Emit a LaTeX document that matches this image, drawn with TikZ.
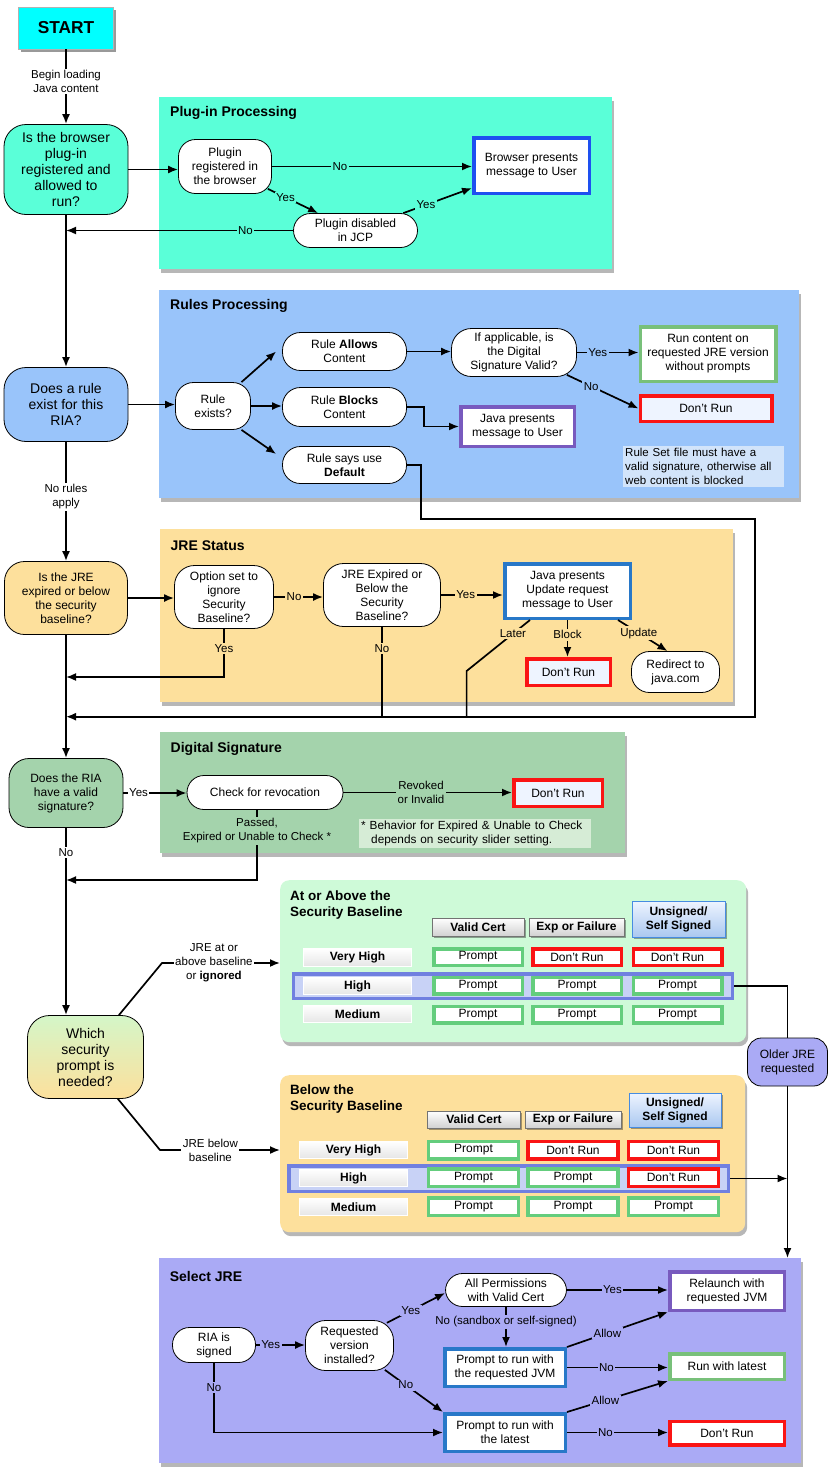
\documentclass[tikz,border=0pt]{standalone}
\usepackage{fontspec}
\setmainfont{Liberation Sans}
\usetikzlibrary{arrows.meta,shadows}
\newcommand\fsz[2]{\fontsize{#1pt}{#2pt}\selectfont}
\definecolor{cStart}{RGB}{0,255,255}
\definecolor{cPlug}{RGB}{90,255,216}
\definecolor{cRule}{RGB}{153,196,250}
\definecolor{cJre}{RGB}{253,224,156}
\definecolor{cSig}{RGB}{164,211,172}
\definecolor{cAbove}{RGB}{206,250,216}
\definecolor{cSel}{RGB}{170,170,245}
\definecolor{cBlue}{RGB}{30,80,240}
\definecolor{cSteel}{RGB}{40,120,200}
\definecolor{cGreen}{RGB}{120,192,122}
\definecolor{cCellG}{RGB}{100,205,125}
\definecolor{cRed}{RGB}{250,20,20}
\definecolor{cPurple}{RGB}{120,90,190}
\definecolor{cPale}{RGB}{238,244,255}
\definecolor{cNoteR}{RGB}{210,228,250}
\definecolor{cNoteS}{RGB}{214,236,214}
\definecolor{cBand}{RGB}{112,128,224}
\definecolor{cBandF}{RGB}{200,210,246}
\definecolor{cHdrB}{RGB}{70,140,225}
\definecolor{cHdrF}{RGB}{170,200,240}
\definecolor{cQtop}{RGB}{212,246,200}
\begin{document}
\begin{tikzpicture}[x=1pt,y=-1pt,
  panel/.style={fill=#1, inner sep=0pt, anchor=north west, draw=none,
    drop shadow={shadow xshift=2pt, shadow yshift=-4pt, opacity=0.4, fill=black!70}},
  ttl/.style={font=\fsz{14}{16}\bfseries, anchor=west, inner sep=0pt},
  rnd/.style={draw, line width=0.8pt, fill=white, rounded corners=#1, align=center, inner sep=1pt, font=\fsz{12}{14}},
  rnd/.default=17pt,
  cbox/.style={draw=#1, line width=3.5pt, fill=white, align=center, inner sep=1pt, font=\fsz{12}{14}},
  qnode/.style={draw, line width=0.8pt, rounded corners=22pt, align=center, inner sep=1pt},
  lbl/.style={fill=#1, inner sep=1.5pt, align=center, font=\fsz{11.5}{14}},
  lbl/.default=white,
  arr/.style={line width=1.7pt, -{Latex[length=10pt,width=8pt]}},
  ln/.style={line width=1.7pt},
  mcell/.style={draw=#1, line width=3.5pt, fill=white, inner sep=0pt, font=\fsz{12}{14}, minimum width=88.5pt, minimum height=16.5pt},
  hdr/.style={draw=black!55, line width=0.8pt, top color=white, bottom color=black!18, inner sep=0pt, align=center, font=\fsz{12}{14}\bfseries,
    drop shadow={shadow xshift=1.5pt, shadow yshift=-2pt, opacity=0.35, fill=black}},
  hdru/.style={draw=cHdrB, line width=0.8pt, top color=cPale, bottom color=cHdrF, inner sep=0pt, align=center, font=\fsz{12}{14}\bfseries,
    drop shadow={shadow xshift=1.5pt, shadow yshift=-2pt, opacity=0.35, fill=black}},
  rowl/.style={draw=white, line width=0.8pt, top color=white, bottom color=black!10, inner sep=0pt, font=\fsz{12}{14}\bfseries, minimum width=108pt, minimum height=17.5pt},
  band/.style={draw=cBand, line width=3.5pt, fill=cBandF, inner sep=0pt}
]
\useasboundingbox (0,0) rectangle (830,1478);

% ---------- panels ----------
\node[panel=cPlug, minimum width=453pt, minimum height=172pt] (pplug) at (159,97) {};
\node[panel=cRule, minimum width=640pt, minimum height=208pt] (prule) at (159,290) {};
\node[panel=cJre, minimum width=573pt, minimum height=173pt] (pjre) at (160,529) {};
\node[panel=cSig, minimum width=465pt, minimum height=121pt] (psig) at (160,732) {};
\node[panel=cAbove, rounded corners=9pt, minimum width=466pt, minimum height=162pt] (pabove) at (280,880) {};
\node[panel=cJre, rounded corners=9pt, minimum width=465pt, minimum height=157pt] (pbelow) at (280,1075) {};
\node[panel=cSel, minimum width=642pt, minimum height=205pt] (psel) at (159,1258) {};

\node[ttl] (tplug) at (170,113) {Plug-in Processing};
\node[ttl] (trule) at (170,306) {Rules Processing};
\node[ttl] (tjre) at (170.5,546) {JRE Status};
\node[ttl] (tsig) at (170.5,749) {Digital Signature};
\node[ttl, anchor=north west, align=left, font=\fsz{13.5}{15.5}\bfseries] (tabove) at (290,891) {At or Above the\\Security Baseline};
\node[ttl, anchor=north west, align=left, font=\fsz{13.5}{15.5}\bfseries] (tbelow) at (290,1085) {Below the\\Security Baseline};

% ---------- main column ----------
\node[draw=black!30, fill=cStart, minimum width=95pt, minimum height=42pt, inner sep=0pt,
  font=\fsz{17.3}{20}\bfseries, drop shadow={shadow xshift=2pt, shadow yshift=-3pt, opacity=0.4, fill=black}] (start) at (66,28) {START};
\node[qnode, fill=cPlug, minimum width=124pt, minimum height=90pt, font=\fsz{14}{15.8}] (q1) at (66,169.5) {Is the browser\\plug-in\\registered and\\allowed to\\run?};
\node[qnode, fill=cRule, minimum width=124pt, minimum height=74pt, font=\fsz{14}{16}] (q2) at (66,404.5) {Does a rule\\exist for this\\RIA?};
\node[qnode, fill=cJre, rounded corners=20pt, minimum width=123pt, minimum height=73pt, font=\fsz{12}{14}] (q3) at (66,598) {Is the JRE\\expired or below\\the security\\baseline?};
\node[qnode, fill=cSig, rounded corners=20pt, minimum width=114pt, minimum height=69pt, font=\fsz{12}{14}] (q4) at (66,793) {Does the RIA\\have a valid\\signature?};
\node[qnode, top color=cQtop, bottom color=cJre, minimum width=116pt, minimum height=83pt, font=\fsz{14}{16}] (q5) at (85.5,1057) {Which\\security\\prompt is\\needed?};

% ---------- plug-in processing ----------
\node[rnd, minimum width=93pt, minimum height=54pt] (preg) at (225,166.5) {Plugin\\registered in\\the browser};
\node[cbox=cBlue, minimum width=115.5pt, minimum height=55.5pt] (bpres) at (531.5,165.5) {Browser presents\\message to User};
\node[rnd, minimum width=124pt, minimum height=34pt] (pdis) at (355.5,230.5) {Plugin disabled\\in JCP};

% ---------- rules processing ----------
\node[rnd=18pt, minimum width=75pt, minimum height=47pt] (rex) at (213,406) {Rule\\exists?};
\node[rnd=18pt, minimum width=124pt, minimum height=38pt] (rall) at (344.5,351.5) {Rule \textbf{Allows}\\Content};
\node[rnd=18pt, minimum width=124pt, minimum height=39pt] (rblk) at (344.5,407) {Rule \textbf{Blocks}\\Content};
\node[rnd=18pt, minimum width=124pt, minimum height=37pt] (rdef) at (344.5,465) {Rule says use\\\textbf{Default}};
\node[rnd=20pt, minimum width=125pt, minimum height=48pt] (rif) at (514,352.5) {If applicable, is\\the Digital\\Signature Valid?};
\node[cbox=cGreen, minimum width=135.5pt, minimum height=54.5pt] (rrun) at (708,354) {Run content on\\requested JRE version\\without prompts};
\node[cbox=cRed, fill=cPale, minimum width=131.5pt, minimum height=25.5pt] (rdont) at (706,408.5) {Don't Run};
\node[cbox=cPurple, minimum width=113.5pt, minimum height=39.5pt] (rjava) at (517.5,426.5) {Java presents\\message to User};
\node[fill=cNoteR, anchor=west, text width=157pt, align=left, inner sep=2pt, minimum height=41pt, font=\fsz{11.5}{14}] (rnote) at (623,466.5) {Rule Set file must have a\\valid signature, otherwise all\\web content is blocked};

% ---------- JRE status ----------
\node[rnd=20pt, minimum width=99pt, minimum height=63pt] (jopt) at (224,597) {Option set to\\ignore\\Security\\Baseline?};
\node[rnd=20pt, minimum width=117pt, minimum height=63pt] (jexp) at (382,595) {JRE Expired or\\Below the\\Security\\Baseline?};
\node[cbox=cSteel, minimum width=125.5pt, minimum height=54.5pt] (jupd) at (567.5,591) {Java presents\\Update request\\message to User};
\node[cbox=cRed, fill=cPale, minimum width=83.5pt, minimum height=26.5pt] (jdont) at (568.5,672) {Don't Run};
\node[rnd=18pt, minimum width=88pt, minimum height=41pt] (jred) at (675.5,672) {Redirect to\\java.com};

% ---------- digital signature ----------
\node[rnd, minimum width=156pt, minimum height=34pt] (dchk) at (265,792.5) {Check for revocation};
\node[cbox=cRed, fill=cPale, minimum width=88.5pt, minimum height=26.5pt] (ddont) at (558,793) {Don't Run};
\node[fill=cNoteS, anchor=west, text width=228pt, align=left, inner sep=2pt, minimum height=28pt, font=\fsz{11.8}{14}] (dnote) at (359,833) {* Behavior for Expired \& Unable to Check\\\hspace*{10pt}depends on security slider setting.};

% ---------- at or above ----------
\node[band, minimum width=439pt, minimum height=24.5pt] (aband) at (512.75,986) {};
\node[hdr, minimum width=92pt, minimum height=18pt] (ahv) at (478,927) {Valid Cert};
\node[hdr, minimum width=95pt, minimum height=18pt] (ahe) at (576.5,927) {Exp or Failure};
\node[hdru, minimum width=93pt, minimum height=36pt] (ahu) at (678.5,919) {Unsigned/\\Self Signed};
\node[rowl] (arvh) at (357.5,957.5) {Very High};
\node[rowl] (arh) at (357.5,986) {High};
\node[rowl] (arm) at (357.5,1014) {Medium};
\node[mcell=cCellG] (a11) at (478,957) {Prompt};
\node[mcell=cRed] (a12) at (577,957) {Don't Run};
\node[mcell=cRed] (a13) at (677.5,957) {Don't Run};
\node[mcell=cCellG] (a21) at (478,985.5) {Prompt};
\node[mcell=cCellG] (a22) at (577,985.5) {Prompt};
\node[mcell=cCellG] (a23) at (677.5,985.5) {Prompt};
\node[mcell=cCellG] (a31) at (478,1014.5) {Prompt};
\node[mcell=cCellG] (a32) at (577,1014.5) {Prompt};
\node[mcell=cCellG] (a33) at (677.5,1014.5) {Prompt};

% ---------- below ----------
\node[band, minimum width=439.5pt, minimum height=25.5pt] (bband) at (508.5,1178.5) {};
\node[hdr, minimum width=93pt, minimum height=17pt] (bhv) at (474,1119.5) {Valid Cert};
\node[hdr, minimum width=96pt, minimum height=17pt] (bhe) at (573,1119.5) {Exp or Failure};
\node[hdru, minimum width=92pt, minimum height=34pt] (bhu) at (675,1110) {Unsigned/\\Self Signed};
\node[rowl] (brvh) at (353.5,1150) {Very High};
\node[rowl] (brh) at (353.5,1178) {High};
\node[rowl] (brm) at (353.5,1207) {Medium};
\node[mcell=cCellG, minimum width=90pt, minimum height=17.5pt] (b11) at (473.5,1150) {Prompt};
\node[mcell=cRed, minimum width=90pt, minimum height=17.5pt] (b12) at (573,1150) {Don't Run};
\node[mcell=cRed, minimum width=90pt, minimum height=17.5pt] (b13) at (673.5,1150) {Don't Run};
\node[mcell=cCellG, minimum width=90pt, minimum height=17.5pt] (b21) at (473.5,1177.5) {Prompt};
\node[mcell=cCellG, minimum width=90pt, minimum height=17.5pt] (b22) at (573,1177.5) {Prompt};
\node[mcell=cRed, minimum width=90pt, minimum height=17.5pt] (b23) at (673.5,1177.5) {Don't Run};
\node[mcell=cCellG, minimum width=90pt, minimum height=17.5pt] (b31) at (473.5,1206.5) {Prompt};
\node[mcell=cCellG, minimum width=90pt, minimum height=17.5pt] (b32) at (573,1206.5) {Prompt};
\node[mcell=cCellG, minimum width=90pt, minimum height=17.5pt] (b33) at (673.5,1206.5) {Prompt};

\node[qnode, fill=cSel, rounded corners=14pt, minimum width=80pt, minimum height=48pt, font=\fsz{12}{14}] (older) at (787.5,1062) {Older JRE\\requested};

% ---------- select JRE ----------
\node[ttl] (tsel) at (169.6,1276) {Select JRE};
\node[rnd, minimum width=83pt, minimum height=35pt] (sria) at (214,1345) {RIA is\\signed};
\node[rnd=20pt, minimum width=88pt, minimum height=50pt] (sreq) at (349.5,1345.5) {Requested\\version\\installed?};
\node[rnd, minimum width=121pt, minimum height=33pt] (sall) at (506,1290) {All Permissions\\with Valid Cert};
\node[cbox=cPurple, minimum width=114.5pt, minimum height=38.5pt] (srel) at (727,1291) {Relaunch with\\requested JVM};
\node[cbox=cSteel, minimum width=120.5pt, minimum height=37.5pt] (sprq) at (505,1367.5) {Prompt to run with\\the requested JVM};
\node[cbox=cGreen, minimum width=114.5pt, minimum height=25.5pt] (srun) at (727,1366.5) {Run with latest};
\node[cbox=cSteel, minimum width=120.5pt, minimum height=37.5pt] (sprl) at (505,1432.5) {Prompt to run with\\the latest};
\node[cbox=cRed, minimum width=114.5pt, minimum height=23.5pt] (sdont) at (727,1433) {Don't Run};

% ---------- coordinates ----------
\coordinate (jyes) at (66,677);
\coordinate (jback) at (66,716.7);
\coordinate (rback) at (755,519);
\coordinate (jlatA) at (466.6,671);
\coordinate (jlatB) at (466.6,716.7);
\coordinate (dret) at (66,880);
\coordinate (aup) at (162,963);
\coordinate (bdn) at (160,1150);

% ---------- connectors: main column ----------
\draw[arr] (start.south) -- node[lbl, pos=0.43] (lbegin) {Begin loading\\Java content} (q1.north);
\draw[arr] (q1.south) -- (q2.north);
\draw[arr] (q2.south) -- node[lbl, pos=0.46] (lnorule) {No rules\\apply} (q3.north);
\draw[arr] (q3.south) -- (q4.north);
\draw[arr] (q4.south) -- node[lbl, pos=0.13] (lno4) {No} (q4.south |- q5.north);

% plug-in
\draw[arr] (q1.east) -- (q1.east -| preg.west);
\draw[arr] (preg.east) -- node[lbl=cPlug, pos=0.34] (lpno) {No} (preg.east -| bpres.west);
\draw[arr] ([shift={(-4pt,5pt)}]preg.south east) -- node[lbl=cPlug, pos=0.35] (lpyes) {Yes} (pdis.155);
\draw[arr] (pdis.20) -- node[lbl=cPlug, pos=0.33] (lpyes2) {Yes} ([yshift=7pt]bpres.south west);
\draw[arr] (pdis.west) -- node[lbl=cPlug, pos=0.21] (lpno2) {No} (pdis.west -| q1.south);

% rules
\draw[arr] (q2.east) -- (q2.east -| rex.west);
\draw[arr] (rex.40) -- ([xshift=-6pt]rall.west);
\draw[arr] (rex.east) -- (rex.east -| rblk.west);
\draw[arr] (rex.-40) -- ([shift={(-6pt,11pt)}]rdef.west);
\draw[arr] (rall.east) -- (rall.east -| rif.west);
\draw[arr] (rif.east) -- node[lbl=cRule, pos=0.34] (lryes) {Yes} (rif.east -| rrun.west);
\draw[arr] ([shift={(-10pt,2pt)}]rif.south east) -- node[lbl=cRule, pos=0.34] (lrno) {No} (rdont.west);
\draw[arr] (rblk.east) -- ++(17,0) |- (rjava.west);
\draw[arr] (rdef.east) -- ++(14,0) |- (rback) |- (jback);

% JRE status
\draw[arr] (q3.east) -- (q3.east -| jopt.west);
\draw[arr] (jopt.east) -- node[lbl=cJre, pos=0.41] (ljno) {No} (jopt.east -| jexp.west);
\draw[arr] (jexp.east) -- node[lbl=cJre, pos=0.4] (ljyes) {Yes} (jexp.east -| jupd.west);
\draw[arr] (jopt.south) |- node[lbl=cJre, pos=0.2] (ljyes2) {Yes} (jyes);
\draw[ln] (jexp.south) -- node[lbl=cJre, pos=0.245] (ljno2) {No} (jexp.south |- jback);
\draw[ln] ([xshift=27pt]jupd.south west) -- node[lbl=cJre, pos=0.27] (llater) {Later} (jlatA) -- (jlatB);
\draw[arr] (jupd.south) -- node[lbl=cJre, pos=0.4] (lblock) {Block} (jupd.south |- jdont.north);
\draw[arr] ([xshift=-14pt]jupd.south east) -- node[lbl=cJre, pos=0.42] (lupd) {Update} ([xshift=-8pt]jred.north);

% digital signature
\draw[arr] (q4.east) -- node[lbl, pos=0.24] (ldyes) {Yes} (q4.east -| dchk.west);
\draw[arr] (dchk.east) -- node[lbl=cSig, pos=0.46] (ldrev) {Revoked\\or Invalid} (dchk.east -| ddont.west);
\draw[arr] ([xshift=-8pt]dchk.south) |- node[lbl=cSig, pos=0.15] (ldpass) {Passed,\\Expired or Unable to Check *} (dret);

% security prompt
\draw[arr] ([xshift=-25pt]q5.north east) -- (aup) -- node[lbl, pos=0.44] (labove) {JRE at or\\above baseline\\or \textbf{ignored}} (aup -| pabove.west);
\draw[arr] ([xshift=-26pt]q5.south east) -- (bdn) -- node[lbl, pos=0.42] (lbelow) {JRE below\\baseline} (bdn -| pbelow.west);
\draw[ln] (aband.east) -| (older.north);
\draw[arr] (older.south) -- (older.south |- psel.north);
\draw[arr] (bband.east) -- (bband.east -| older.south);

% select JRE
\draw[arr] (sria.east) -- node[lbl=cSel, pos=0.3] (lsyes) {Yes} (sria.east -| sreq.west);
\draw[arr] ([shift={(-7pt,-2.7pt)}]sreq.north east) -- node[lbl=cSel, pos=0.41] (lsyes2) {Yes} ([yshift=-3pt]sall.west);
\draw[arr] ([shift={(-9pt,1pt)}]sreq.south east) -- node[lbl=cSel, pos=0.36] (lsno) {No} (sprl.north west);
\draw[arr] (sria.south) |- node[lbl=cSel, pos=0.18] (lsno2) {No} (sprl.west);
\draw[arr] (sall.east) -- node[lbl=cSel, pos=0.45] (lsyes3) {Yes} (sall.east -| srel.west);
\draw[arr] (sall.south) -- node[lbl=cSel, pos=0.37] (lsand) {No (sandbox or self-signed)} (sall.south |- sprq.north);
\draw[arr] (sprq.north east) -- node[lbl=cSel, pos=0.4] (lsallow) {Allow} (srel.south west);
\draw[arr] (sprq.east) -- node[lbl=cSel, pos=0.39] (lsno3) {No} (sprq.east -| srun.west);
\draw[arr] (sprl.north east) -- node[lbl=cSel, pos=0.38] (lsallow2) {Allow} (srun.south west);
\draw[arr] (sprl.east) -- node[lbl=cSel, pos=0.38] (lsno4) {No} (sprl.east -| sdont.west);
\end{tikzpicture}
\end{document}
